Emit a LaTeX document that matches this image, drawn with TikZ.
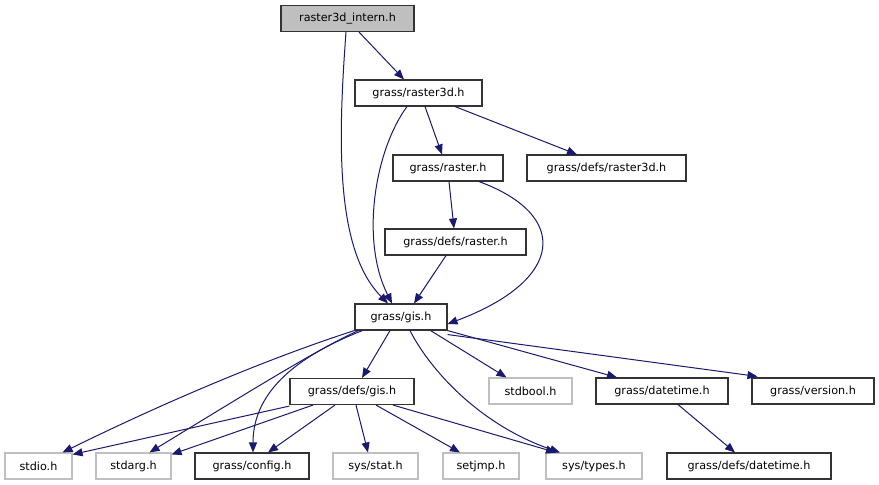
\documentclass[tikz,border=0pt]{standalone}
\usepackage{fontspec}
\setmainfont{DejaVu Sans}
\usetikzlibrary{arrows.meta}
\definecolor{edgec}{HTML}{191970}
\definecolor{greyb}{HTML}{BFBFBF}
\begin{document}
\begin{tikzpicture}[x=1pt,y=-1pt,
  box/.style={draw=black!80,line width=1.1pt,fill=white,minimum height=26pt,inner sep=0pt,font=\fontsize{11.2}{13}\selectfont},
  gbox/.style={box,draw=greyb},
  root/.style={box,fill=greyb},
  dep/.style={draw=edgec,line width=1pt,-{Triangle[length=10pt,width=8pt]}}]
\useasboundingbox (0,0) rectangle (879,485);
\node[root,minimum width=133pt] (intern) at (347.5,18.5) {raster3d\_intern.h};
\node[box,minimum width=127pt] (r3d) at (418.5,93) {grass/raster3d.h};
\node[box,minimum width=110pt] (ras) at (448,168) {grass/raster.h};
\node[box,minimum width=159pt] (dr3d) at (606.5,168) {grass/defs/raster3d.h};
\node[box,minimum width=141pt] (dras) at (455.5,242) {grass/defs/raster.h};
\node[box,minimum width=92pt] (gis) at (401,317) {grass/gis.h};
\node[box,minimum width=124pt] (dgis) at (352,391.5) {grass/defs/gis.h};
\node[gbox,minimum width=83pt] (bool) at (530.5,391) {stdbool.h};
\node[box,minimum width=132pt] (dt) at (662,391) {grass/datetime.h};
\node[box,minimum width=122pt] (ver) at (813,391) {grass/version.h};
\node[gbox,minimum width=67pt] (stdio) at (38.5,466) {stdio.h};
\node[gbox,minimum width=75pt] (stdarg) at (133.5,466) {stdarg.h};
\node[box,minimum width=114pt] (conf) at (252,466) {grass/config.h};
\node[gbox,minimum width=85pt] (stat) at (375.5,466) {sys/stat.h};
\node[gbox,minimum width=76pt] (jmp) at (481,466) {setjmp.h};
\node[gbox,minimum width=96pt] (types) at (594,466) {sys/types.h};
\node[box,minimum width=164pt] (ddt) at (749,466) {grass/defs/datetime.h};
% edges
\draw[dep] ([xshift=11.5pt]intern.south) -- ([xshift=-14.5pt]r3d.north);
\draw[dep] ([xshift=-1.5pt]intern.south) .. controls (338,140) and (335,250) .. ([xshift=-13pt]gis.north);
\draw[dep] ([xshift=-11.5pt]r3d.south) .. controls (375,150) and (360,240) .. ([xshift=-9pt]gis.north);
\draw[dep] ([xshift=6.5pt]r3d.south) -- ([xshift=-6pt]ras.north);
\draw[dep] ([xshift=36.5pt]r3d.south) -- ([xshift=-29.5pt]dr3d.north);
\draw[dep] ([xshift=1pt]ras.south) -- ([xshift=-1.5pt]dras.north);
\draw[dep] ([xshift=31pt]ras.south) .. controls (570,215) and (565,280) .. ([yshift=-7pt]gis.east);
\draw[dep] ([xshift=-9.5pt]dras.south) -- ([xshift=13pt]gis.north);
\draw[dep] (gis.south west) .. controls (300,348) and (200,385) .. ([xshift=24pt]stdio.north);
\draw[dep] ([xshift=4pt]gis.south west) .. controls (320,348) and (260,385) .. ([xshift=16pt]stdarg.north);
\draw[dep] ([xshift=8pt]gis.south west) .. controls (300,355) and (253,390) .. ([xshift=1pt]conf.north);
\draw[dep] ([xshift=-11pt]gis.south) -- ([xshift=10pt]dgis.north);
\draw[dep] ([xshift=9pt]gis.south) .. controls (430,370) and (480,425) .. ([xshift=-34pt]types.north);
\draw[dep] ([xshift=-17pt]gis.south east) -- ([xshift=-24pt]bool.north);
\draw[dep] (gis.south east) -- ([xshift=-45pt]dt.north);
\draw[dep] ([yshift=-4pt]gis.south east) -- ([xshift=6pt,yshift=1pt]ver.north west);
\draw[dep] ([yshift=-1pt]dgis.south west) -- ([yshift=-2pt]stdio.north east);
\draw[dep] ([xshift=-39pt]dgis.south) -- ([yshift=-2pt]stdarg.north east);
\draw[dep] ([xshift=-17pt]dgis.south) -- ([xshift=16pt]conf.north);
\draw[dep] ([xshift=4pt]dgis.south) -- ([xshift=-7.5pt]stat.north);
\draw[dep] ([xshift=24pt]dgis.south) -- ([xshift=-21pt]jmp.north);
\draw[dep] ([xshift=41pt]dgis.south) -- ([xshift=-38pt]types.north);
\draw[dep] ([xshift=16pt]dt.south) -- ([xshift=-14pt]ddt.north);
\end{tikzpicture}
\end{document}
